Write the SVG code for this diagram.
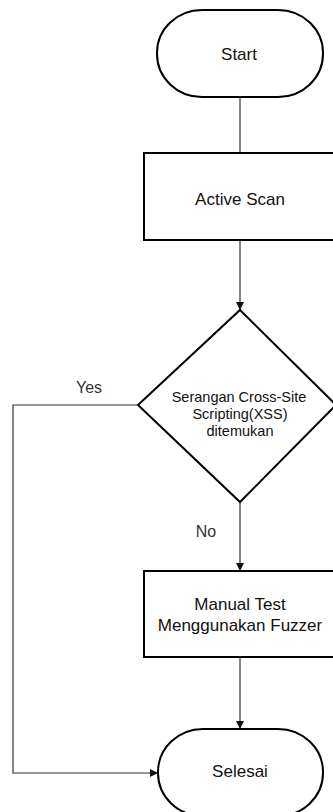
<svg xmlns="http://www.w3.org/2000/svg" width="333" height="812" viewBox="0 0 333 812">
<style>
.node{fill:#fff;stroke:#000;stroke-width:2}
.lbl{font-family:"Liberation Sans",Arial,sans-serif;font-size:17px;fill:#111;text-anchor:middle}
.sm{font-size:14.5px}
.edge{fill:none;stroke:#333;stroke-width:1.2}
.el{font-family:"Liberation Sans",Arial,sans-serif;font-size:16px;fill:#333;text-anchor:middle}
</style>
<defs>
<marker id="arr" viewBox="0 0 10 10" refX="10" refY="5" markerWidth="8" markerHeight="8" markerUnits="userSpaceOnUse" orient="auto">
<path d="M0,0 L10,5 L0,10 Z" fill="#111"/>
</marker>
</defs>
<rect width="333" height="812" fill="#fff"/>
<g id="connectors">
<line class="edge" x1="240" y1="97" x2="240" y2="153"/>
<line class="edge" x1="240" y1="240" x2="240" y2="310" marker-end="url(#arr)"/>
<line class="edge" x1="240" y1="502" x2="240" y2="571" marker-end="url(#arr)"/>
<line class="edge" x1="240" y1="657" x2="240" y2="729" marker-end="url(#arr)"/>
<polyline class="edge" points="138,405 13,405 13,773 158,773" marker-end="url(#arr)"/>
<text class="el" x="89" y="393">Yes</text>
<text class="el" x="206" y="537">No</text>
</g>
<g id="start">
<rect class="node" x="157" y="10" width="166" height="87" rx="45" ry="43"/>
<text class="lbl" x="239" y="60">Start</text>
</g>
<g id="active-scan">
<rect class="node" x="144" y="153" width="210" height="87"/>
<text class="lbl" x="240" y="205">Active Scan</text>
</g>
<g id="decision">
<polygon class="node" points="240,310 336,405 240,502 138,405"/>
<text class="lbl sm" x="239" y="402">Serangan Cross-Site</text>
<text class="lbl sm" x="240" y="419">Scripting(XSS)</text>
<text class="lbl sm" x="240" y="436">ditemukan</text>
</g>
<g id="manual-test">
<rect class="node" x="144" y="571" width="210" height="86"/>
<text class="lbl" x="240" y="610">Manual Test</text>
<text class="lbl" x="240" y="631">Menggunakan Fuzzer</text>
</g>
<g id="selesai">
<rect class="node" x="158" y="729" width="165" height="87" rx="45" ry="43"/>
<text class="lbl" x="240" y="777">Selesai</text>
</g>
</svg>
